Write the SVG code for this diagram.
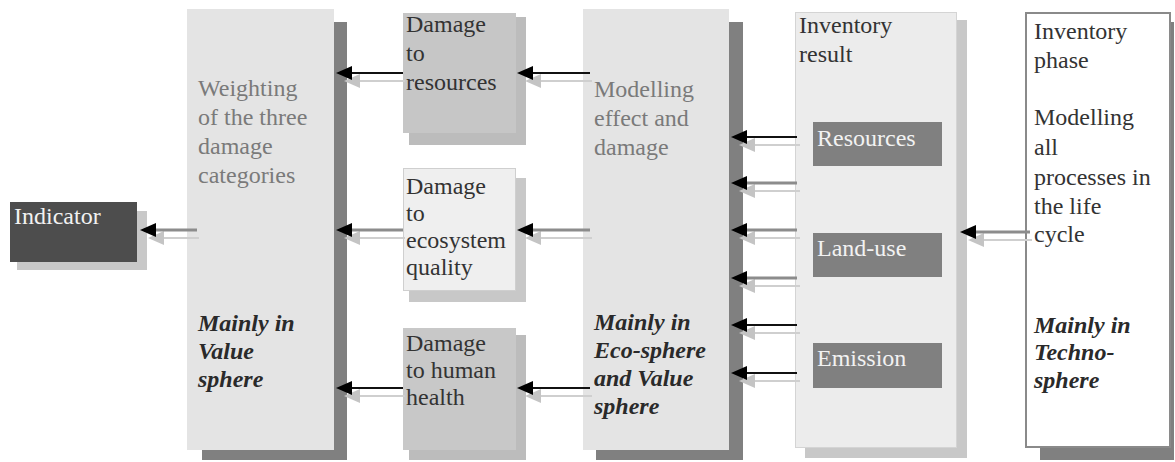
<svg xmlns="http://www.w3.org/2000/svg" width="1175" height="462" viewBox="0 0 1175 462" font-family="'Liberation Serif', 'Times New Roman', 'DejaVu Serif', serif">
<style>
text{font-family:'Liberation Serif','Times New Roman','DejaVu Serif',serif;font-size:24px;fill:#333}
.t{fill:#7a7a7a}
.w{fill:#f2f2f2}
.bi{font-weight:bold;font-style:italic;fill:#2a2a2a}
.lb{stroke:#111;stroke-width:2;fill:none}
.lg{stroke:#8c8c8c;stroke-width:3;fill:none}
.ls{stroke:#cfcfcf;stroke-width:2;fill:none}
</style>
<defs>
<marker id="hb" markerUnits="userSpaceOnUse" markerWidth="18" markerHeight="16" refX="12" refY="8" orient="auto"><path d="M0,1 L16,8 L0,15 Z" fill="#000"/></marker>
<marker id="hs" markerUnits="userSpaceOnUse" markerWidth="18" markerHeight="16" refX="12" refY="8" orient="auto"><path d="M0,1 L16,8 L0,15 Z" fill="#c4c4c4"/></marker>
</defs>
<rect width="1175" height="462" fill="#fff"/>

<g id="indicator">
<rect x="17" y="211" width="130" height="59" fill="#c8c8c8"/>
<rect x="10" y="202" width="127" height="60" fill="#4d4d4d"/>
<text x="14" y="224" class="w">Indicator</text>
</g>

<g id="weighting">
<rect x="202" y="22" width="145" height="438" fill="#808080"/>
<rect x="187" y="9" width="147" height="441" fill="#e4e4e4"/>
<text class="t"><tspan x="198" y="96">Weighting</tspan><tspan x="198" y="125">of the three</tspan><tspan x="198" y="154">damage</tspan><tspan x="198" y="183">categories</tspan></text>
<text class="bi"><tspan x="198" y="331">Mainly in</tspan><tspan x="198" y="359">Value</tspan><tspan x="198" y="387">sphere</tspan></text>
</g>

<g id="damage-resources">
<rect x="409" y="17" width="117" height="128" fill="#bcbcbc"/>
<rect x="403" y="13" width="113" height="120" fill="#c6c6c6"/>
<text><tspan x="406" y="32">Damage</tspan><tspan x="406" y="61">to</tspan><tspan x="406" y="90">resources</tspan></text>
</g>

<g id="damage-ecosystem">
<rect x="409" y="178" width="117" height="124" fill="#c8c8c8"/>
<rect x="403.5" y="168.5" width="112" height="122" fill="#efefef" stroke="#cfcfcf"/>
<text><tspan x="406" y="194">Damage</tspan><tspan x="406" y="221">to</tspan><tspan x="406" y="248">ecosystem</tspan><tspan x="406" y="275">quality</tspan></text>
</g>

<g id="damage-health">
<rect x="409" y="335" width="117" height="125" fill="#bcbcbc"/>
<rect x="403" y="328" width="113" height="122" fill="#c8c8c8"/>
<text><tspan x="406" y="351">Damage</tspan><tspan x="406" y="378">to human</tspan><tspan x="406" y="405">health</tspan></text>
</g>

<g id="modelling">
<rect x="596" y="22" width="147" height="438" fill="#808080"/>
<rect x="583" y="9" width="146" height="441" fill="#e4e4e4"/>
<text class="t"><tspan x="594" y="97">Modelling</tspan><tspan x="594" y="126">effect and</tspan><tspan x="594" y="155">damage</tspan></text>
<text class="bi"><tspan x="594" y="330">Mainly in</tspan><tspan x="594" y="358">Eco-sphere</tspan><tspan x="594" y="386">and Value</tspan><tspan x="594" y="414">sphere</tspan></text>
</g>

<g id="inventory-result">
<rect x="805" y="20" width="162" height="438" fill="#c8c8c8"/>
<rect x="795.5" y="12.5" width="161" height="435" fill="#ececec" stroke="#d4d4d4"/>
<text><tspan x="799" y="33">Inventory</tspan><tspan x="799" y="62">result</tspan></text>
</g>

<g id="resources">
<rect x="813" y="122" width="129" height="44" fill="#808080"/>
<text x="817" y="146" class="w">Resources</text>
</g>

<g id="land-use">
<rect x="813" y="233" width="129" height="44" fill="#808080"/>
<text x="817" y="256" class="w">Land-use</text>
</g>

<g id="emission">
<rect x="813" y="343" width="129" height="45" fill="#808080"/>
<text x="817" y="366" class="w">Emission</text>
</g>

<g id="inventory-phase">
<rect x="1040" y="22" width="134" height="438" fill="#808080"/>
<rect x="1026" y="13" width="144" height="434" fill="#fff" stroke="#8a8a8a" stroke-width="2"/>
<text><tspan x="1034" y="39">Inventory</tspan><tspan x="1034" y="68">phase</tspan><tspan x="1034" y="125">Modelling</tspan><tspan x="1034" y="155">all</tspan><tspan x="1034" y="185">processes in</tspan><tspan x="1034" y="214">the life</tspan><tspan x="1034" y="242">cycle</tspan></text>
<text class="bi"><tspan x="1034" y="333">Mainly in</tspan><tspan x="1034" y="360">Techno-</tspan><tspan x="1034" y="388">sphere</tspan></text>
</g>

<g id="connectors">
<g class="ls" marker-end="url(#hs)">
<path d="M199,238 H152"/>
<path d="M405,81 H348"/>
<path d="M405,238 H348"/>
<path d="M405,396 H348"/>
<path d="M592,81 H529"/>
<path d="M592,238 H529"/>
<path d="M592,396 H529"/>
<path d="M800,145 H743"/>
<path d="M800,191 H743"/>
<path d="M800,238 H743"/>
<path d="M800,286 H743"/>
<path d="M800,333 H743"/>
<path d="M800,381 H743"/>
<path d="M1032,240 H972"/>
</g>
<path class="lg" d="M197,230 H144" marker-end="url(#hb)"/>
<path class="lb" d="M403,73 H340" marker-end="url(#hb)"/>
<path class="lg" d="M403,230 H340" marker-end="url(#hb)"/>
<path class="lb" d="M403,388 H340" marker-end="url(#hb)"/>
<path class="lb" d="M590,73 H521" marker-end="url(#hb)"/>
<path class="lg" d="M590,230 H521" marker-end="url(#hb)"/>
<path class="lb" d="M590,388 H521" marker-end="url(#hb)"/>
<path class="lb" d="M797,137 H735" marker-end="url(#hb)"/>
<path class="lg" d="M797,183 H735" marker-end="url(#hb)"/>
<path class="lg" d="M797,230 H735" marker-end="url(#hb)"/>
<path class="lg" d="M797,278 H735" marker-end="url(#hb)"/>
<path class="lb" d="M797,325 H735" marker-end="url(#hb)"/>
<path class="lb" d="M797,373 H735" marker-end="url(#hb)"/>
<path class="lg" d="M1030,232 H964" marker-end="url(#hb)"/>
</g>
</svg>
